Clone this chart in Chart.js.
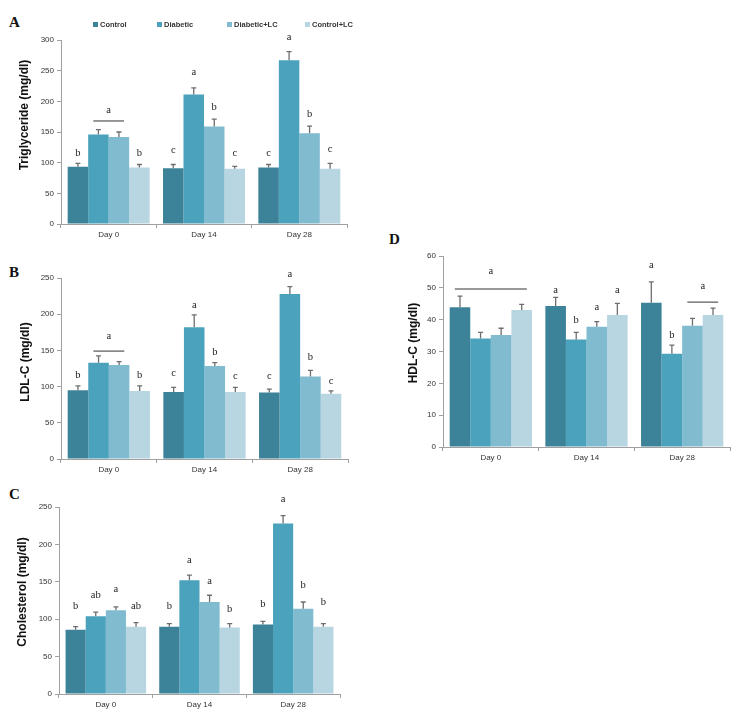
<!DOCTYPE html>
<html>
<head>
<meta charset="utf-8">
<script src="https://cdn.jsdelivr.net/npm/chart.js@4.4.1/dist/chart.umd.min.js"></script>
<style>
  body { margin: 0; background: #fff; }
  #fig { position: relative; width: 753px; height: 722px; }
  .panel { position: absolute; }
  .tag { position: absolute; font: bold 15px/15px "Liberation Serif", "Times New Roman", serif; color: #111; }
  .leg { position: absolute; top: 19px; height: 10px; display: flex; align-items: center;
         font: bold 7.5px "Liberation Sans", Arial, sans-serif; color: #333; white-space: nowrap; }
  .leg i { display: inline-block; width: 5px; height: 5px; margin-right: 2px; }
</style>
</head>
<body>
<div id="fig">
  <div class="tag" style="left:9px;top:15px">A</div>
  <div class="tag" style="left:9px;top:265px">B</div>
  <div class="tag" style="left:9px;top:487px">C</div>
  <div class="tag" style="left:389px;top:232px">D</div>
  <div class="panel" style="left:0;top:0"><canvas id="tg" width="380" height="245"></canvas></div>
  <div class="panel" style="left:0;top:245px"><canvas id="ldl" width="380" height="235"></canvas></div>
  <div class="panel" style="left:0;top:480px"><canvas id="chol" width="380" height="242"></canvas></div>
  <div class="panel" style="left:380px;top:230px"><canvas id="hdl" width="373" height="250"></canvas></div>
</div>
<script>
// groupes et jours
const days = ["Day 0", "Day 14", "Day 28"];
const groups = ["Control", "Diabetic", "Diabetic+LC", "Control+LC"];
const colors = ["#3c8399", "#4aa2bc", "#80bbd0", "#b8d6e1"];

// Triglyceride : une ligne par groupe, une colonne par jour
const tgMean = [[93.5, 91, 92], [146, 211, 267], [142, 159, 148], [92, 90, 90]];
const tgErr = [[5.5, 6, 5], [8, 11, 14], [8, 12, 11.5], [5, 4, 9]];
const tgLetters = [["b", "c", "c"], ["", "a", "a"], ["", "b", "b"], ["b", "c", "c"]];
const tgLetterAt = [[116, 119.5, 116], [0, 247, 304], [0, 190, 179], [116, 115, 122]];
const tgBrackets = [{ day: 0, from: 1, to: 2, at: 168, letter: "a", letterAt: 186 }];

// LDL-C
const ldlMean = [[95, 92.5, 92], [133, 182, 228], [130, 128.5, 114], [94, 92.5, 90]];
const ldlErr = [[6, 6.5, 4.5], [9.5, 17, 10], [4.5, 4.5, 8.5], [7, 6.5, 4]];
const ldlLetters = [["b", "c", "c"], ["", "a", "a"], ["", "b", "b"], ["b", "c", "c"]];
const ldlLetterAt = [[116, 119, 114], [0, 212, 255], [0, 148, 140], [116, 114, 108]];
const ldlBrackets = [{ day: 0, from: 1, to: 2, at: 149, letter: "a", letterAt: 169 }];

// Cholesterol
const cholMean = [[86, 90, 93], [104, 152, 228], [112, 123, 114], [90, 89, 90]];
const cholErr = [[4, 4, 4], [5.5, 7, 10.5], [4.5, 9, 9], [5.5, 5, 4]];
const cholLetters = [["b", "b", "b"], ["ab", "a", "a"], ["a", "a", "b"], ["ab", "b", "b"]];
const cholLetterAt = [[117.5, 117.5, 120], [132, 179, 260], [140, 151, 146], [117.5, 113, 123]];
const cholBrackets = [];

// HDL-C
const hdlMean = [[43.9, 44.3, 45.3], [34.1, 33.8, 29.3], [35.2, 37.8, 38.1], [43, 41.5, 41.5]];
const hdlErr = [[3.5, 2.7, 6.6], [1.9, 2.2, 2.7], [2.1, 1.6, 2.3], [1.8, 3.6, 2.1]];
const hdlLetters = [["", "a", "a"], ["", "b", "b"], ["", "a", ""], ["", "a", ""]];
const hdlLetterAt = [[0, 49.1, 57.1], [0, 39.9, 35.2], [0, 44, 0], [0, 49.1, 0]];
const hdlBrackets = [
  { day: 0, from: 0, to: 3, at: 49.6, letter: "a", letterAt: 55.1 },
  { day: 2, from: 2, to: 3, at: 45.5, letter: "a", letterAt: 50.5 },
];

const SANS = "'Liberation Sans', Arial, sans-serif";
const AXIS = "#a0a0a0";

// légende en HTML au-dessus du panneau A
const legendX = [93, 157, 227, 305];
groups.forEach((g, i) => {
  const d = document.createElement("div");
  d.className = "leg";
  d.style.left = legendX[i] + "px";
  d.innerHTML = '<i style="background:' + colors[i] + '"></i>' + g;
  document.getElementById("fig").appendChild(d);
});

// barres d'erreur, lettres et traits
const marks = {
  id: "marks",
  afterDatasetsDraw(chart, args, opts) {
    const ctx = chart.ctx;
    const y = chart.scales.y;
    ctx.save();
    chart.data.datasets.forEach((ds, i) => {
      chart.getDatasetMeta(i).data.forEach((bar, j) => {
        const y0 = y.getPixelForValue(ds.data[j]);
        const y1 = y.getPixelForValue(ds.data[j] + ds.errors[j]);
        ctx.strokeStyle = "#6e6e6e";
        ctx.lineWidth = 1.3;
        ctx.beginPath();
        ctx.moveTo(bar.x, y0);
        ctx.lineTo(bar.x, y1);
        ctx.moveTo(bar.x - 2.5, y1);
        ctx.lineTo(bar.x + 2.5, y1);
        ctx.stroke();
        if (ds.letters[j]) {
          ctx.fillStyle = "#222";
          ctx.font = "10.5px 'Liberation Serif', 'Times New Roman', serif";
          ctx.textAlign = "center";
          ctx.textBaseline = "middle";
          ctx.fillText(ds.letters[j], bar.x, y.getPixelForValue(ds.letterAt[j]));
        }
      });
    });
    (opts.brackets || []).forEach((b) => {
      const a = chart.getDatasetMeta(b.from).data[b.day];
      const z = chart.getDatasetMeta(b.to).data[b.day];
      const yy = y.getPixelForValue(b.at);
      ctx.strokeStyle = "#777";
      ctx.lineWidth = 1.5;
      ctx.beginPath();
      ctx.moveTo(a.x - a.width * 0.25, yy);
      ctx.lineTo(z.x + z.width * 0.25, yy);
      ctx.stroke();
      ctx.fillStyle = "#222";
      ctx.font = "10.5px 'Liberation Serif', 'Times New Roman', serif";
      ctx.textAlign = "center";
      ctx.textBaseline = "middle";
      ctx.fillText(b.letter, (a.x + z.x) / 2, y.getPixelForValue(b.letterAt));
    });
    ctx.restore();
  },
};

// titre de l'axe y, placé à la main
const sideTitle = {
  id: "sideTitle",
  afterDraw(chart, args, opts) {
    const ctx = chart.ctx;
    ctx.save();
    ctx.translate(opts.x, opts.y);
    ctx.rotate(-Math.PI / 2);
    ctx.font = "bold 12px " + SANS;
    ctx.fillStyle = "#111";
    ctx.textAlign = "center";
    ctx.textBaseline = "middle";
    ctx.fillText(opts.text, 0, 0);
    ctx.restore();
  },
};

function makePanel(id, title, mean, err, letters, letterAt, brackets, max, step, pad, yWidth, titlePos) {
  const ctx = document.getElementById(id).getContext("2d");
  return new Chart(ctx, {
    type: "bar",
    data: {
      labels: days,
      datasets: groups.map((g, i) => ({
        label: g,
        data: mean[i],
        errors: err[i],
        letters: letters[i],
        letterAt: letterAt[i],
        backgroundColor: colors[i],
        borderWidth: 0,
        barPercentage: 1,
        categoryPercentage: 0.86,
      })),
    },
    plugins: [marks, sideTitle],
    options: {
      responsive: false,
      animation: false,
      layout: { padding: pad },
      plugins: {
        legend: { display: false },
        tooltip: { enabled: false },
        marks: { brackets: brackets },
        sideTitle: { text: title, x: titlePos[0], y: titlePos[1] },
      },
      scales: {
        x: {
          grid: { offset: true, drawOnChartArea: false, tickLength: 4, color: AXIS },
          border: { color: AXIS },
          ticks: { font: { size: 8, family: SANS }, color: "#333", padding: 2 },
          afterFit: (s) => { s.height = 21; },
        },
        y: {
          min: 0,
          max: max,
          ticks: { stepSize: step, font: { size: 8, family: SANS }, color: "#333", padding: 3 },
          grid: { drawOnChartArea: false, tickLength: 4, color: AXIS },
          border: { color: AXIS },
          afterFit: (s) => { s.width = yWidth; },
        },
      },
    },
  });
}

makePanel("tg", "Triglyceride (mg/dl)", tgMean, tgErr, tgLetters, tgLetterAt, tgBrackets,
  300, 50, { left: 0, top: 40, right: 33, bottom: 0 }, 61, [25, 115]);
makePanel("ldl", "LDL-C (mg/dl)", ldlMean, ldlErr, ldlLetters, ldlLetterAt, ldlBrackets,
  250, 50, { left: 0, top: 33, right: 32, bottom: 0 }, 61, [26, 117]);
makePanel("chol", "Cholesterol (mg/dl)", cholMean, cholErr, cholLetters, cholLetterAt, cholBrackets,
  250, 50, { left: 0, top: 27, right: 40, bottom: 7 }, 59, [23, 112]);
makePanel("hdl", "HDL-C (mg/dl)", hdlMean, hdlErr, hdlLetters, hdlLetterAt, hdlBrackets,
  60, 10, { left: 0, top: 26, right: 23, bottom: 12 }, 63, [34, 113]);
</script>
</body>
</html>
